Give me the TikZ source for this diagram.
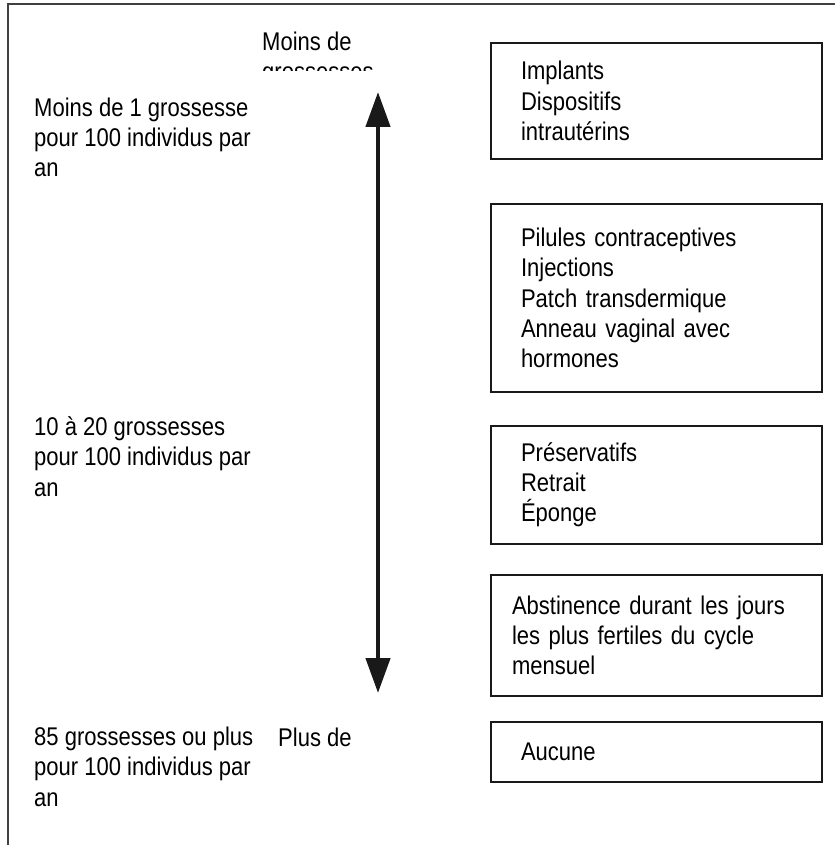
\documentclass[tikz,border=0pt]{standalone}
\usepackage{fontspec}
\setmainfont{Liberation Sans}[FakeStretch=0.86]
\usetikzlibrary{arrows.meta,positioning}

\begin{document}
\begin{tikzpicture}[x=1pt,y=-1pt,>={Triangle[width=24pt,length=35pt]},
	font=\fontsize{25.6}{30.2}\selectfont]
	\tikzstyle{block} = [draw=black!90, line width=2.8pt, rectangle, outer sep=0pt, minimum width=331pt, text width=271pt, inner xsep=30pt, align=left]
	\tikzstyle{rate} = [anchor=base west, inner sep=0pt, align=left]
	
	\useasboundingbox (0,0) rectangle (835,845);
	\draw [line width=2.5pt, black!75] (8,845) -- (8,4) -- (835,4);
	
	% methods, from most to least effective
	\node [block, minimum height=116pt, anchor=north west] (implants) at (491,43) {Implants\\Dispositifs\\intrautérins};
	\node [block, minimum height=188pt, below = 45pt of implants] (pilules) {Pilules contraceptives\\Injections\\Patch transdermique\\Anneau vaginal avec\\hormones};
	\node [block, minimum height=118pt, below = 34pt of pilules] (preserv) {Préservatifs\\Retrait\\Éponge};
	\node [block, minimum height=121pt, inner xsep=21pt, text width=289pt, below = 31pt of preserv] (abstin) {Abstinence durant les jours\\les plus fertiles du cycle\\mensuel};
	\node [block, minimum height=60pt, below = 26pt of abstin] (aucune) {Aucune};
	
	% rates (base = last line)
	\node [rate] (rhigh) at (34,177) {Moins de 1 grossesse\\pour 100 individus par\\an};
	\node [rate] (rmid) at (34,496) {10 à 20 grossesses\\pour 100 individus par\\an};
	\node [rate] (rlow) at (34,806) {85 grossesses ou plus\\pour 100 individus par\\an};
	
	\begin{scope}
		\clip (200,0) rectangle (480,71);
		\node [rate] (moins) at (262,81) {Moins de\\grossesses};
	\end{scope}
	\node [rate] (plus) at (278,746) {Plus de};
	
	\coordinate (hi) at (378,92);
	\coordinate (lo) at (378,693);
	\draw [<->, line width=4.5pt, black!90] (hi) -- (lo);
	
\end{tikzpicture}
\end{document}
